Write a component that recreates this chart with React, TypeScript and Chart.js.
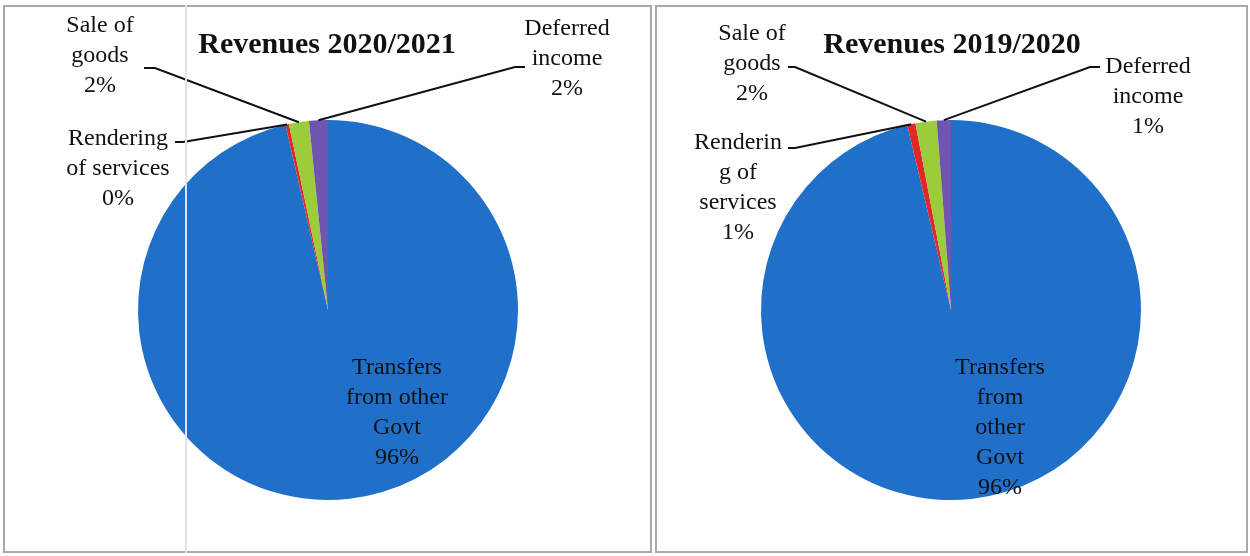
import React, { useEffect, useRef } from "react";
import { Chart, registerables } from "chart.js";

Chart.register(...registerables);

// ---- data ----
const categories = [
  "Transfers from other Govt",
  "Rendering of services",
  "Sale of goods",
  "Deferred income",
];
const values2021 = [96.4, 0.3, 1.7, 1.6];
const values2020 = [96.3, 0.7, 1.8, 1.2];
const pct2021 = ["96%", "0%", "2%", "2%"];
const pct2020 = ["96%", "1%", "2%", "1%"];
const lines2021 = [["Transfers", "from other", "Govt"], ["Rendering", "of services"], ["Sale of", "goods"], ["Deferred", "income"]];
const lines2020 = [["Transfers", "from", "other", "Govt"], ["Renderin", "g of", "services"], ["Sale of", "goods"], ["Deferred", "income"]];
const title2021 = "Revenues 2020/2021";
const title2020 = "Revenues 2019/2020";
const sliceColors = ["#2070CA", "#E02828", "#9CCB3C", "#6F55AE"];

type LabelPos = { cx: number; y0: number; leader?: [number, number, number, number] };

// positions relative to each box (label center x, first line center y, leader start & elbow)
const layout2021: LabelPos[] = [
  { cx: 394, y0: 363 },
  { cx: 115, y0: 134, leader: [172, 137, 180, 137] },
  { cx: 97, y0: 21, leader: [141, 63, 152, 63] },
  { cx: 564, y0: 24, leader: [522, 62, 512, 62] },
];
const layout2020: LabelPos[] = [
  { cx: 345, y0: 363 },
  { cx: 83, y0: 138, leader: [133, 143, 140, 143] },
  { cx: 97, y0: 29, leader: [133, 62, 140, 62] },
  { cx: 493, y0: 62, leader: [445, 62, 435, 62] },
];

const LINE_H = 30;

const labelPlugin = {
  id: "pieLabels",
  afterDraw(chart: any, _args: any, opts: any) {
    const ctx = chart.ctx as CanvasRenderingContext2D;
    const meta = chart.getDatasetMeta(0);
    ctx.save();
    // title
    ctx.fillStyle = "#111";
    ctx.font = "bold 30px 'Liberation Serif', 'Times New Roman', serif";
    ctx.textAlign = "center";
    ctx.textBaseline = "middle";
    ctx.fillText(opts.title, opts.titleX, opts.titleY);

    ctx.font = "24px 'Liberation Serif', 'Times New Roman', serif";
    const lines: string[][] = opts.lines;
    const pct: string[] = opts.pct;
    const pos: LabelPos[] = opts.pos;
    pos.forEach((p, i) => {
      const all = [...lines[i], pct[i]];
      all.forEach((t, k) => {
        ctx.fillStyle = "#111";
        ctx.fillText(t, p.cx, p.y0 + k * LINE_H);
      });
      if (p.leader) {
        const el = meta.data[i] as any;
        const mid = (el.startAngle + el.endAngle) / 2;
        const ex = el.x + Math.cos(mid) * el.outerRadius;
        const ey = el.y + Math.sin(mid) * el.outerRadius;
        ctx.strokeStyle = "#111";
        ctx.lineWidth = 2;
        ctx.beginPath();
        ctx.moveTo(p.leader[0], p.leader[1]);
        ctx.lineTo(p.leader[2], p.leader[3]);
        ctx.lineTo(ex, ey);
        ctx.stroke();
      }
    });
    ctx.restore();
  },
};

type PieProps = {
  left: number;
  width: number;
  values: number[];
  pct: string[];
  lines: string[][];
  pos: LabelPos[];
  title: string;
  titleX: number;
  pad: { left: number; right: number; top: number; bottom: number };
};

function PieBox(props: PieProps) {
  const ref = useRef<HTMLCanvasElement | null>(null);
  const height = 548;
  useEffect(() => {
    if (!ref.current) return;
    const chart = new Chart(ref.current, {
      type: "pie",
      data: {
        labels: categories,
        datasets: [
          {
            data: props.values,
            backgroundColor: sliceColors,
            borderWidth: 0,
          },
        ],
      },
      options: {
        animation: false,
        responsive: false,
        devicePixelRatio: 1,
        layout: { padding: props.pad },
        plugins: {
          legend: { display: false },
          tooltip: { enabled: false },
          pieLabels: {
            title: props.title,
            titleX: props.titleX,
            titleY: 40,
            lines: props.lines,
            pct: props.pct,
            pos: props.pos,
          },
        } as any,
      },
      plugins: [labelPlugin],
    });
    return () => chart.destroy();
  }, []);
  return (
    <div
      style={{
        position: "absolute",
        left: props.left,
        top: 5,
        width: props.width,
        height,
        boxSizing: "border-box",
        border: "2px solid #a9a9a9",
        background: "#fff",
      }}
    >
      <canvas
        ref={ref}
        width={props.width}
        height={height}
        style={{ position: "absolute", left: -2, top: -2, width: props.width, height }}
      />
    </div>
  );
}

export default function App() {
  useEffect(() => {
    document.body.style.margin = "0";
  }, []);
  return (
    <div style={{ position: "absolute", left: 0, top: 0, width: 1250, height: 556, background: "#fff", overflow: "hidden" }}>
      <PieBox
        left={3}
        width={649}
        values={values2021}
        pct={pct2021}
        lines={lines2021}
        pos={layout2021}
        title={title2021}
        titleX={324}
        pad={{ left: 135, right: 134, top: 115, bottom: 53 }}
      />
      <div style={{ position: "absolute", left: 185, top: 5, width: 2, height: 548, background: "#e6e0f0" }} />
      <PieBox
        left={655}
        width={593}
        values={values2020}
        pct={pct2020}
        lines={lines2020}
        pos={layout2020}
        title={title2020}
        titleX={297}
        pad={{ left: 106, right: 107, top: 115, bottom: 53 }}
      />
    </div>
  );
}
